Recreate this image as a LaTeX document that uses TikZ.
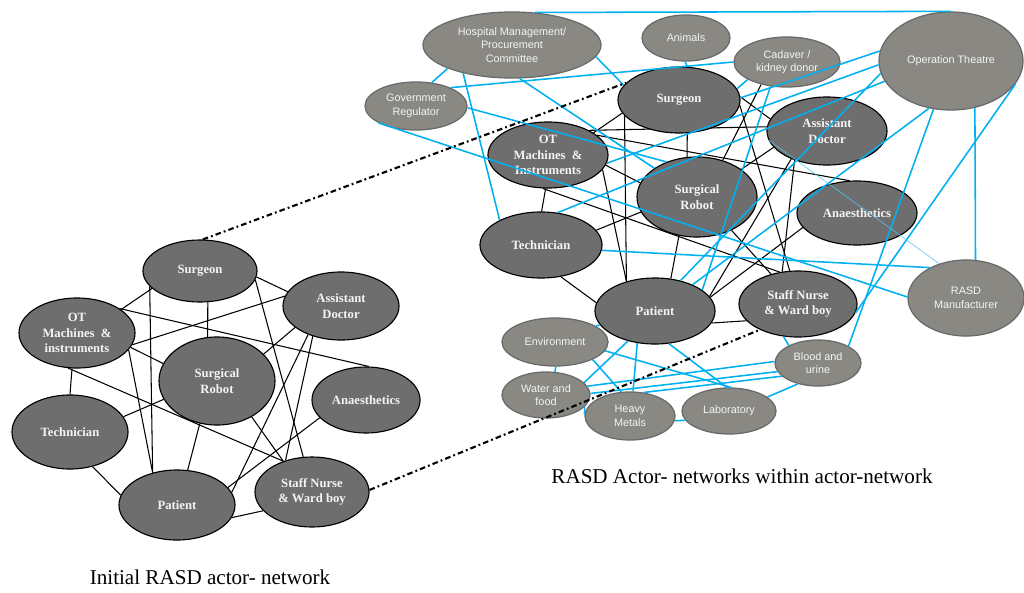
\documentclass[tikz,border=0pt]{standalone}
\usepackage{fontspec}
\setmainfont{Liberation Serif}
\newfontfamily\arialf{Liberation Sans}
\usetikzlibrary{shapes.geometric}
\definecolor{coreFill}{HTML}{6E6E6E}
\definecolor{periFill}{HTML}{8A8883}
\definecolor{periLine}{HTML}{6A6A6A}
\definecolor{linkBlue}{RGB}{0,176,240}
\definecolor{nodeText}{HTML}{F4F4F4}
\pgfdeclarelayer{back}
\pgfsetlayers{back,main}

\begin{document}
\begin{tikzpicture}[x=0.025cm,y=-0.025cm,
  actor/.style 2 args={ellipse, inner sep=0pt, minimum width=#1*0.05cm,
    minimum height=#2*0.05cm, align=center, text=nodeText},
  core/.style={draw=black, line width=0.8pt, fill=coreFill,
    font=\fontsize{9}{11}\selectfont\bfseries},
  peri/.style={draw=periLine, line width=0.9pt, fill=periFill,
    font=\arialf\fontsize{7.7}{9.6}\selectfont},
  tie/.style={draw=black, line width=0.75pt},
  link/.style={draw=linkBlue, line width=1.1pt},
  faint/.style={draw=linkBlue!70, line width=0.4pt},
  jump/.style={draw=black, line width=1.5pt,
    dash pattern=on 4pt off 2.2pt on 1.3pt off 2.2pt},
  caption/.style={font=\fontsize{15}{18}\selectfont}
]
\useasboundingbox (0,0) rectangle (1024,592);
\begin{pgfonlayer}{back}
  \fill[white] (0,0) rectangle (1024,592);
\end{pgfonlayer}

% ---------- initial actor-network ----------
\node[actor={57}{31}, core] (lS)  at (200,271) {Surgeon};
\node[actor={58}{34}, core] (lAD) at (341,306) {Assistant\\Doctor};
\node[actor={58}{35}, core] (lOT) at (77,333)  {OT\\Machines \ \&\\instruments};
\node[actor={58}{44}, core] (lSR) at (217,381) {Surgical\\Robot};
\node[actor={54}{33}, core] (lAN) at (366,400) {Anaesthetics};
\node[actor={58}{37}, core] (lT)  at (70,432)  {Technician};
\node[actor={58}{35}, core] (lP)  at (177,505) {Patient};
\node[actor={57}{35}, core] (lSN) at (312,492) {Staff Nurse\\\& Ward boy};

% ---------- extended actor-network: outer actors ----------
\node[actor={89}{33}, peri] (hm) at (512,45)  {Hospital Management/\\Procurement\\Committee};
\node[actor={44}{23}, peri] (an) at (686,38)  {Animals};
\node[actor={53}{25}, peri] (cd) at (787,62)  {Cadaver /\\kidney donor};
\node[actor={72}{49}, peri] (ot) at (951,61)  {Operation Theatre};
\node[actor={51}{24}, peri] (gr) at (416,106) {Government\\Regulator};
\node[actor={58}{38}, peri] (rm) at (966,298) {RASD\\Manufacturer};
\node[actor={53}{24}, peri] (en) at (555,342) {Environment};
\node[actor={44}{23}, peri] (wf) at (546,395) {Water and\\food};
\node[actor={45}{24}, peri] (hv) at (630,416) {Heavy\\Metals};
\node[actor={47}{23}, peri] (lb) at (729,411) {Laboratory};
\node[actor={43}{23}, peri] (bu) at (818,363) {Blood and\\urine};

% ---------- extended actor-network: core actors ----------
\node[actor={61}{33}, core] (rS)  at (679,100) {Surgeon};
\node[actor={60}{33}, core] (rOT) at (548,155) {OT\\Machines \ \&\\Instruments};
\node[actor={60}{34}, core] (rAD) at (827,131) {Assistant\\Doctor};
\node[actor={60}{40}, core] (rSR) at (697,197) {Surgical\\Robot};
\node[actor={60}{32}, core] (rAN) at (857,213) {Anaesthetics};
\node[actor={61}{33}, core] (rT)  at (541,245) {Technician};
\node[actor={60}{33}, core] (rP)  at (655,311) {Patient};
\node[actor={59}{33}, core] (rSN) at (798,304) {Staff Nurse\\\& Ward boy};

% ---------- black ties (behind the actors) ----------
\begin{pgfonlayer}{back}
  \draw[tie] (lS.200) -- (lOT.28);
  \draw[tie] (lS.197) -- (lP.127);
  \draw[tie] (lS.284) -- (lSR.102);
  \draw[tie] (lS.354) -- (lAD.165);
  \draw[tie] (lS.351) -- (lSN.104);
  \draw[tie] (lOT.348) -- (lAD.170);
  \draw[tie] (lOT.30) -- (lAN.85);
  \draw[tie] (lOT.345) -- (lSR.162);
  \draw[tie] (lOT.256) -- (lSN.133);
  \draw[tie] (lOT.262) -- (lT.90);
  \draw[tie] (lOT.342) -- (lP.127);
  \draw[tie] (lT.16) -- (lSR.199);
  \draw[tie] (lT.303) -- (lP.170);
  \draw[tie] (lSR.248) -- (lP.73);
  \draw[tie] (lSR.314) -- (lSN.133);
  \draw[tie] (lAD.205) -- (lSR.30);
  \draw[tie] (lAD.221) -- (lP.13);
  \draw[tie] (lAD.227) -- (lSN.130);
  \draw[tie] (lAN.201) -- (lP.19);
  \draw[tie] (lP.347) -- (lSN.201);

  \draw[tie] (rS.193) -- (rOT.26);
  \draw[tie] (rS.196) -- (rP.134);
  \draw[tie] (rS.284) -- (rSR.104);
  \draw[tie] (rS.3) -- (rAD.168);
  \draw[tie] (rS.355) -- (rSN.104);
  \draw[tie] (rOT.31) -- (rAD.176);
  \draw[tie] (rOT.22) -- (rAN.103);
  \draw[tie] (rOT.350) -- (rSR.166);
  \draw[tie] (rOT.261) -- (rSN.120);
  \draw[tie] (rOT.266) -- (rT.89);
  \draw[tie] (rOT.345) -- (rP.134);
  \draw[tie] (rT.15) -- (rSR.195);
  \draw[tie] (rT.302) -- (rP.172);
  \draw[tie] (rSR.245) -- (rP.64);
  \draw[tie] (rSR.316) -- (rSN.132);
  \draw[tie] (rAD.197) -- (rSR.32);
  \draw[tie] (rAD.218) -- (rP.15);
  \draw[tie] (rAD.222) -- (rSN.116);
  \draw[tie] (rAN.195) -- (rP.14);
  \draw[tie] (rP.348) -- (rSN.198);
  \draw[tie] (cd.221) -- (rSR.55);
\end{pgfonlayer}

% ---------- blue links to the outer actors ----------
\draw[link] (hm.55) -- (ot.90);
\draw[link] (hm.200) -- (gr.56);
\draw[link] (hm.352) -- (rS.165);
\draw[link] (hm.210) -- (rT.149);
\draw[link] (hm.283) -- (rSR.146);
\draw[link] (gr.28) -- (cd.180);
\draw[link] (gr.358) -- (rSR.131);
\draw[link] (gr.204) -- (rm.179);
\draw[link] (rOT.352) -- (ot.183);
\draw[link] (rT.63) -- (ot.197);
\draw[link] (rS.2) -- (ot.172);
\draw[link] (rS.11) -- (cd.204);
\draw[link] (an.268) -- (rS.76);
\draw[link] (rP.50) -- (ot.190);
\draw[link] (rP.35) -- (ot.245);
\draw[link] (cd.236) -- (rP.24);
\draw[link] (ot.341) -- (rSN.351);
\draw[link] (ot.250) -- (bu.29);
\draw[link] (ot.297.5) -- (rm.76.5);
\draw[link] (rT.355) -- (rm.140);
\draw[faint] (rAD.189) -- (rm.128);

\draw[link] (rP.194) -- (en.21);
\draw[link] (en.272) -- (wf.69);
\draw[link] (wf.343) -- (hv.178);
\draw[link] (hv.354) -- (lb.192);
\draw[link] (lb.20) -- (bu.226);
\draw[link] (rP.228) -- (wf.18);
\draw[link] (rP.241) -- (hv.83);
\draw[link] (rP.293) -- (lb.95);
\draw[link] (en.335) -- (hv.110);
\draw[link] (en.350) -- (lb.85);
\draw[link] (wf.12) -- (bu.178);
\draw[link] (wf.2) -- (bu.192);
\draw[link] (hv.60) -- (bu.200);
\draw[link] (rSN.246) -- (bu.149);

% ---------- dash-dot links between the two networks ----------
\draw[jump] (lS.85) -- (rS.162);
\draw[jump] (lSN.2) -- (rSN.214);

% ---------- captions ----------
\node[caption] (capL) at (210,577) {Initial RASD actor- network};
\node[caption] (capR) at (742,476) {RASD Actor- networks within actor-network};
\end{tikzpicture}
\end{document}
